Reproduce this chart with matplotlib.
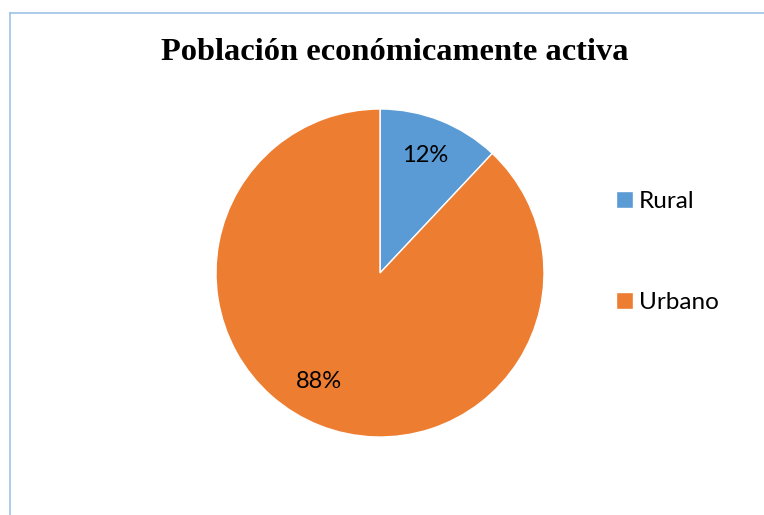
import matplotlib.pyplot as plt
from matplotlib.lines import Line2D

categories = ["Rural", "Urbano"]
shares = [12, 88]
colors = ["#5B9BD5", "#ED7D31"]
title = "Población económicamente activa"

fig = plt.figure(figsize=(7.64, 5.15), dpi=100)

# chart area border (only top and left visible in the crop)
fig.add_artist(Line2D([10 / 764, 1], [1 - 12.5 / 515] * 2, color="#9DC3E6", lw=1.2))
fig.add_artist(Line2D([10 / 764] * 2, [0, 1 - 12.5 / 515], color="#9DC3E6", lw=1.2))

fig.text(395 / 764, 1 - 52 / 515, title, ha="center", va="center",
         family="Liberation Serif", weight="bold", fontsize=23.4)

# pie: center (380, 273) px, radius ~164 px
r = 164
ax = fig.add_axes([(380 - r) / 764, 1 - (273 + r) / 515, 2 * r / 764, 2 * r / 515])
wedges, texts = ax.pie(
    shares, colors=colors, startangle=90, counterclock=False,
    wedgeprops=dict(edgecolor="white", linewidth=1),
)
ax.set_xlim(-1, 1)
ax.set_ylim(-1, 1)
ax.set_aspect("equal")

label_pos = [(425, 155), (319, 382)]
for (px, py), v in zip(label_pos, shares):
    fig.text(px / 764, 1 - py / 515, f"{v}%", ha="center", va="center",
             family="Lato", fontsize=17, color="#000000")

ax.legend(wedges, categories, loc="center left",
          bbox_to_anchor=(604 / 764, 1 - 252 / 515), bbox_transform=fig.transFigure,
          frameon=False, prop=dict(family="Lato", size=17.5),
          handlelength=0.7, handleheight=0.7, handletextpad=0.25,
          labelspacing=3.3, borderpad=0)

fig.savefig("out.png", dpi=100)
